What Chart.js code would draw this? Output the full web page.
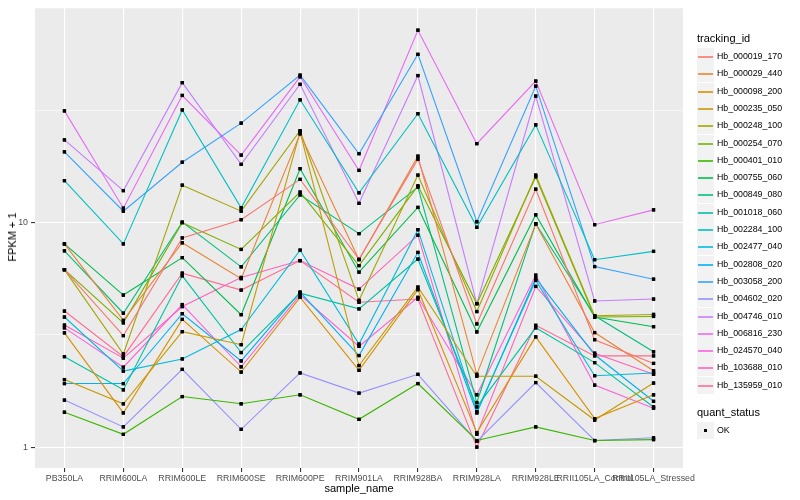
<!DOCTYPE html>
<html>
<head>
<meta charset="utf-8">
<script src="https://cdn.jsdelivr.net/npm/chart.js@4.4.1/dist/chart.umd.min.js"></script>
<style>
  html, body { margin: 0; padding: 0; background: #fff; }
  body { width: 800px; height: 500px; position: relative; overflow: hidden; font-family: 'Liberation Sans', Arial, sans-serif; }
  #wrap { position: absolute; left: 0; top: 0; width: 800px; height: 500px; }
  .axis-title { position: absolute; font-size: 11px; color: #000; white-space: nowrap; }
  #ytitle { left: 12px; top: 237px; transform: translate(-50%, -50%) rotate(-90deg); }
  #xtitle { left: 359px; top: 488px; transform: translate(-50%, -50%); }
  .legend { position: absolute; left: 697px; width: 100px; font-size: 8.8px; color: #000; }
  .legend .ttl { position: absolute; left: 0; top: 0; font-size: 11px; height: 18px; line-height: 18px; white-space: nowrap; }
  .legend .row { position: absolute; left: 0; height: 17px; line-height: 17px; white-space: nowrap; }
  .legend .key { position: absolute; left: 0; top: 0; width: 17px; height: 17px; background: #F2F2F2; }
  .legend .lab { position: absolute; left: 20px; top: 0; }
  .legend .key i { position: absolute; left: 1px; right: 1px; top: 8px; height: 2px; opacity: 0.8; }
  .legend .key b { position: absolute; left: 7px; top: 7px; width: 3px; height: 3px; background: #000; }
</style>
</head>
<body>
<div id="wrap"><canvas id="chart" width="800" height="500"></canvas></div>
<div id="ytitle" class="axis-title">FPKM + 1</div>
<div id="xtitle" class="axis-title">sample_name</div>
<div id="legend1" class="legend" style="top:29px"></div>
<div id="legend2" class="legend" style="top:403px"></div>
<script>
const sampleNames = ['PB350LA', 'RRIM600LA', 'RRIM600LE', 'RRIM600SE', 'RRIM600PE', 'RRIM901LA',
  'RRIM928BA', 'RRIM928LA', 'RRIM928LE', 'RRII105LA_Control', 'RRII105LA_Stressed'];

const trackingIds = ['Hb_000019_170', 'Hb_000029_440', 'Hb_000098_200', 'Hb_000235_050', 'Hb_000248_100',
  'Hb_000254_070', 'Hb_000401_010', 'Hb_000755_060', 'Hb_000849_080', 'Hb_001018_060', 'Hb_002284_100',
  'Hb_002477_040', 'Hb_002808_020', 'Hb_003058_200', 'Hb_004602_020', 'Hb_004746_010', 'Hb_006816_230',
  'Hb_024570_040', 'Hb_103688_010', 'Hb_135959_010'];

// FPKM + 1, one value per sample
const hb000019 = [6.18, 3.14, 8.56, 10.31, 15.6, 6.87, 19.2, 3.54, 14.1, 3.01, 2.36];
const hb000029 = [8.05, 3.67, 8.14, 5.63, 24.9, 6.84, 19.8, 2.11, 9.87, 3.24, 2.19];
const hb000098 = [3.23, 1.42, 3.71, 2.16, 4.65, 2.20, 5.03, 1.16, 3.10, 1.34, 1.71];
const hb000235 = [2.00, 1.56, 3.27, 2.86, 25.4, 2.31, 5.17, 2.07, 2.07, 1.32, 1.93];
const hb000248 = [6.18, 2.60, 14.7, 11.26, 25.7, 4.51, 16.3, 4.02, 16.3, 3.85, 3.90];
const hb000254 = [6.18, 3.58, 10.0, 7.60, 13.7, 6.44, 14.6, 4.36, 16.0, 3.80, 3.82];
const hb000401 = [1.43, 1.14, 1.68, 1.56, 1.71, 1.33, 1.92, 1.07, 1.23, 1.07, 1.08];
const hb000755 = [8.05, 4.76, 6.99, 3.89, 17.4, 6.02, 11.7, 3.26, 10.85, 3.80, 3.44];
const hb000849 = [7.50, 3.95, 10.07, 6.36, 13.3, 8.94, 14.4, 1.58, 9.90, 3.85, 2.66];
const hb001018 = [2.53, 1.80, 5.80, 2.64, 4.85, 4.13, 6.89, 1.51, 3.40, 2.38, 1.51];
const hb002284 = [15.4, 8.05, 31.8, 11.65, 35.3, 13.6, 30.6, 9.54, 27.3, 6.84, 7.45];
const hb002477 = [3.80, 2.18, 2.47, 3.34, 7.55, 2.88, 9.31, 1.44, 5.53, 2.08, 2.14];
const hb002808 = [1.92, 1.92, 3.93, 2.42, 4.91, 2.56, 7.37, 1.42, 5.66, 2.58, 1.60];
const hb003058 = [20.7, 11.26, 18.6, 27.8, 45.5, 20.3, 56.3, 10.10, 40.6, 6.38, 5.60];
const hb004602 = [1.62, 1.23, 2.22, 1.20, 2.14, 1.74, 2.11, 1.06, 1.94, 1.07, 1.10];
const hb004746 = [23.4, 13.9, 42.1, 18.2, 41.4, 12.2, 45.3, 4.36, 36.7, 4.48, 4.57];
const hb006816 = [31.5, 11.61, 36.9, 20.0, 44.7, 17.1, 72.1, 22.5, 42.8, 9.80, 11.41];
const hb024570 = [3.40, 2.27, 4.32, 2.28, 4.77, 2.81, 4.65, 1.71, 5.84, 1.89, 1.49];
const hb103688 = [3.50, 2.49, 4.23, 5.70, 6.78, 5.06, 8.80, 1.14, 5.20, 2.62, 2.11];
const hb135959 = [4.04, 2.53, 5.96, 5.01, 6.78, 4.42, 4.57, 1.00, 3.49, 2.55, 2.55];

const seriesValues = [hb000019, hb000029, hb000098, hb000235, hb000248, hb000254, hb000401, hb000755,
  hb000849, hb001018, hb002284, hb002477, hb002808, hb003058, hb004602, hb004746, hb006816,
  hb024570, hb103688, hb135959];

const yTicks = [1, 3.1623, 10, 31.623];
const yLabels = ['1', '', '10', ''];

const hues = ['#F8766D', '#EA8331', '#D89000', '#C09B00', '#A3A500', '#7CAE00', '#39B600', '#00BB4E',
  '#00BF7D', '#00C1A3', '#00BFC4', '#00BAE0', '#00B0F6', '#35A2FF', '#9590FF', '#C77CFF', '#E76BF3',
  '#FA62DB', '#FF62BC', '#FF6C91'];

/* panel background + points on top of all lines */
const panelPlugin = {
  id: 'panel',
  beforeDraw(chart) {
    const { ctx, chartArea: a } = chart;
    ctx.save();
    ctx.fillStyle = '#EBEBEB';
    ctx.fillRect(a.left, a.top, a.right - a.left, a.bottom - a.top);
    ctx.restore();
  },
  afterDatasetsDraw(chart) {
    const { ctx, chartArea } = chart;
    chart.data.datasets.forEach((ds, i) => {
      chart.getDatasetMeta(i).data.forEach((pt) => pt.draw(ctx, chartArea));
    });
  },
};

const datasets = seriesValues.map((vals, i) => ({
  label: trackingIds[i],
  data: vals,
  borderColor: hues[i],
  backgroundColor: '#000',
  borderWidth: 1.1,
  pointStyle: 'rect',
  pointRadius: 2.3,
  pointBorderWidth: 0,
  pointBackgroundColor: '#000',
  tension: 0,
  fill: false,
}));

new Chart(document.getElementById('chart'), {
  type: 'line',
  data: { labels: sampleNames, datasets },
  plugins: [panelPlugin],
  options: {
    responsive: false,
    animation: false,
    layout: { padding: { top: 5, right: 117, bottom: 0, left: 0 } },
    plugins: { legend: { display: false }, tooltip: { enabled: false } },
    scales: {
      x: {
        offset: true,
        afterFit: (s) => { s.height = 32; s.paddingLeft = 0; s.paddingRight = 0; },
        grid: { color: '#FFFFFF', lineWidth: 1.1, tickColor: '#333333', tickLength: 4, offset: false },
        border: { display: false },
        ticks: {
          autoSkip: false, maxRotation: 0, minRotation: 0, padding: 1, color: '#4D4D4D',
          font: { family: "'Liberation Sans', Arial, sans-serif", size: 8.8 },
        },
      },
      y: {
        type: 'logarithmic',
        min: 0.807,
        max: 90.3,
        afterFit: (s) => { s.width = 35; },
        afterBuildTicks: (s) => { s.ticks = yTicks.map((v) => ({ value: v })); },
        grid: {
          color: '#FFFFFF',
          lineWidth: (c) => (c.index % 2 === 0 ? 1.1 : 0.55),
          tickColor: (c) => (c.index % 2 === 0 ? '#333333' : 'rgba(0,0,0,0)'),
          tickLength: 4,
        },
        border: { display: false },
        ticks: {
          padding: 3, color: '#4D4D4D',
          font: { family: "'Liberation Sans', Arial, sans-serif", size: 8.8 },
          callback: (v, i) => yLabels[i],
        },
      },
    },
  },
});

/* legends — rows on whole pixels so the key lines stay crisp */
const rowTop = (i) => Math.round(19 + i * 17.3);
document.getElementById('legend1').innerHTML = '<div class="ttl">tracking_id</div>' + trackingIds.map((id, i) =>
  `<div class="row" style="top:${rowTop(i)}px"><span class="key"><i style="background:${hues[i]}"></i></span><span class="lab">${id}</span></div>`).join('');
document.getElementById('legend2').innerHTML =
  `<div class="ttl">quant_status</div><div class="row" style="top:${rowTop(0)}px"><span class="key"><b></b></span><span class="lab">OK</span></div>`;
</script>
</body>
</html>
